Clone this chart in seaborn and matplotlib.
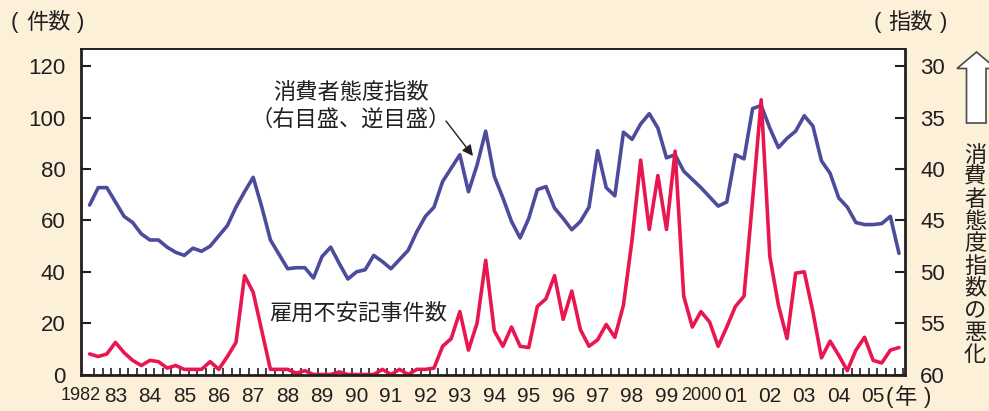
import numpy as np
import pandas as pd
import matplotlib
matplotlib.use("Agg")
import matplotlib.pyplot as plt
from matplotlib.patches import Polygon
from matplotlib.ticker import FixedLocator
import seaborn as sns

# Quarterly series, 1982Q2 - 2005Q4
quarters = pd.period_range("1982Q2", "2005Q4", freq="Q")

# Number of newspaper articles on job insecurity (left axis, count)
job_anxiety_articles = [
    8, 7, 8, 12.5, 8.5, 5.5, 3.5, 5.5, 5, 2.5,
    3.5, 2, 2, 2, 5, 2, 7, 12.5, 38.5, 32,
    17, 2, 2, 2, 0.5, 1.5, 0, 0, 0, 1,
    0, 0, 0, 0, 2, 0, 2, 0, 2, 2,
    2.5, 11, 14, 24.5, 9.5, 20, 44.5, 17, 11, 18.5,
    11, 10.5, 26.5, 29.5, 38.5, 21.5, 32.5, 17.5, 11, 13.5,
    19.5, 14.5, 27, 52.5, 83.5, 56.5, 77.5, 56.5, 87, 30.5,
    18.5, 24.5, 20.5, 11, 18.5, 26.5, 30.5, 68, 107, 46,
    27, 14, 39.5, 40, 24.5, 6.5, 13, 7.5, 1.5, 9.5,
    14.5, 5.5, 4.5, 9.5, 10.5,
]

# Consumer attitude index (right axis, inverted)
consumer_attitude_index = [
    43.5, 41.8, 41.8, 43.2, 44.6, 45.2, 46.3, 46.9, 46.9, 47.6,
    48.1, 48.4, 47.7, 48.0, 47.5, 46.5, 45.5, 43.7, 42.2, 40.8,
    43.7, 46.9, 48.3, 49.7, 49.6, 49.6, 50.6, 48.5, 47.6, 49.2,
    50.7, 50.0, 49.8, 48.4, 49.0, 49.7, 48.8, 47.9, 46.1, 44.6,
    43.7, 41.2, 39.9, 38.6, 42.2, 39.6, 36.3, 40.7, 42.8, 45.1,
    46.7, 44.8, 42.0, 41.7, 43.8, 44.8, 45.9, 45.1, 43.7, 38.2,
    41.8, 42.6, 36.4, 37.1, 35.6, 34.6, 36.0, 38.9, 38.6, 40.2,
    41.0, 41.8, 42.7, 43.6, 43.2, 38.6, 39.0, 34.1, 33.8, 36.0,
    37.9, 37.0, 36.3, 34.8, 35.8, 39.2, 40.4, 42.8, 43.7, 45.2,
    45.4, 45.4, 45.3, 44.6, 48.2,
]

year_labels = ["1982", "83", "84", "85", "86", "87", "88", "89", "90", "91",
               "92", "93", "94", "95", "96", "97", "98", "99", "2000", "01",
               "02", "03", "04", "05"]
left_ticks = [0, 20, 40, 60, 80, 100, 120]
right_ticks = [30, 35, 40, 45, 50, 55, 60]

BG = "#fdf0d8"
RED = "#e8174f"
BLUE = "#4d4b9b"
INK = "#231f20"

sns.set_theme(style="white")
plt.rcParams["font.family"] = ["Liberation Sans", "Noto Sans CJK JP", "DejaVu Sans"]
CJK = ["Noto Sans CJK JP", "DejaVu Sans"]

W, H = 989, 411
fig = plt.figure(figsize=(W / 100, H / 100), dpi=100, facecolor=BG)


def fx(x):
    return x / W


def fy(y):
    return 1 - y / H


ax = fig.add_axes([fx(81), fy(374.5), fx(905) - fx(81), fy(49) - fy(374.5)])
ax2 = ax.twinx()
ax.set_zorder(2)
ax2.set_zorder(1)
ax.patch.set_visible(False)
ax2.patch.set_visible(True)
ax2.patch.set_facecolor("white")

df = pd.DataFrame({
    "q": np.arange(len(quarters)),
    "articles": job_anxiety_articles,
    "index": consumer_attitude_index,
})

sns.lineplot(data=df, x="q", y="index", ax=ax2, color=BLUE, linewidth=2.6)
sns.lineplot(data=df, x="q", y="articles", ax=ax, color=RED, linewidth=2.6)

ax.set_xlim(-0.58, 94.7)
ax.set_ylim(0, 126.8)
ax2.set_ylim(60, 60 - 126.8 / 4)

for a in (ax, ax2):
    a.set_xlabel("")
    a.set_ylabel("")
    a.grid(False)
for s in ax2.spines.values():
    s.set_visible(False)
for name, s in ax.spines.items():
    s.set_visible(True)
    s.set_color(INK)
    s.set_linewidth(1.4 if name == "top" else 2.0)

# y axes
ax.set_yticks(left_ticks)
ax.set_yticklabels([str(v) for v in left_ticks])
ax.tick_params(axis="y", direction="in", length=7, width=1.5, pad=11,
               labelsize=16, colors=INK, left=True)
ax2.set_yticks(right_ticks)
ax2.set_yticklabels([str(v) for v in right_ticks])
ax2.tick_params(axis="y", direction="in", length=7, width=1.5, pad=11,
                labelsize=16, colors=INK, right=True)

# x axis: year labels at Q1, quarterly tick marks
year_pos = [4 * k - 1 for k in range(len(year_labels))]
ax.set_xticks(year_pos)
ax.set_xticklabels(year_labels)
ax.xaxis.set_minor_locator(FixedLocator(np.arange(len(quarters)) + 0.5))
ax.tick_params(axis="x", which="major", length=0, pad=9, colors=INK, bottom=True)
ax.tick_params(axis="x", which="minor", direction="in", length=5, width=1.2,
               colors=INK, bottom=True)
for lab in ax.get_xticklabels():
    lab.set_fontsize(13 if len(lab.get_text()) == 4 else 15)

# unit captions, parentheses set apart
def caption(parts, y):
    for x, s, fam in parts:
        fig.text(fx(x), fy(y), s, family=fam, size=16, ha="center",
                 va="center", color=INK)


caption([(14, "(", "Liberation Sans"), (48.5, "件数", CJK),
         (81, ")", "Liberation Sans")], 22.5)
caption([(877.5, "(", "Liberation Sans"), (911, "指数", CJK),
         (943.5, ")", "Liberation Sans")], 22.5)
caption([(889, "(", "Liberation Sans"), (906.5, "年", CJK),
         (927.5, ")", "Liberation Sans")], 397)

# series captions
fig.text(fx(351.5), fy(92.5), "消費者態度指数", family=CJK, size=16,
         ha="center", va="center", color=INK)
fig.text(fx(351), fy(119), "（右目盛、逆目盛）", family=CJK, size=16,
         ha="center", va="center", color=INK)
fig.text(fx(358), fy(313), "雇用不安記事件数", family=CJK, size=16,
         ha="center", va="center", color=INK)
ax.annotate("", xy=(fx(473), fy(156)), xycoords="figure fraction",
            xytext=(fx(446), fy(121)), textcoords="figure fraction",
            arrowprops=dict(arrowstyle="-|>", color=INK, lw=1.0,
                            mutation_scale=16, shrinkA=0, shrinkB=0))

# vertical caption on the right
for k, ch in enumerate("消費者態度指数の悪化"):
    fig.text(fx(975), fy(155 + 22.2 * k), ch, family=CJK, size=16,
             ha="center", va="center", color=INK)

# hollow arrow: upward means a worse index
arrow_px = [(976.5, 52), (996, 68.5), (986, 68.5), (986, 123),
            (966.5, 123), (966.5, 68.5), (957, 68.5)]
fig.add_artist(Polygon([(fx(x), fy(y)) for x, y in arrow_px], closed=True,
                       transform=fig.transFigure, facecolor="white",
                       edgecolor="#4a4a4a", linewidth=1.2))

fig.savefig("out.png", dpi=100, facecolor=fig.get_facecolor())
